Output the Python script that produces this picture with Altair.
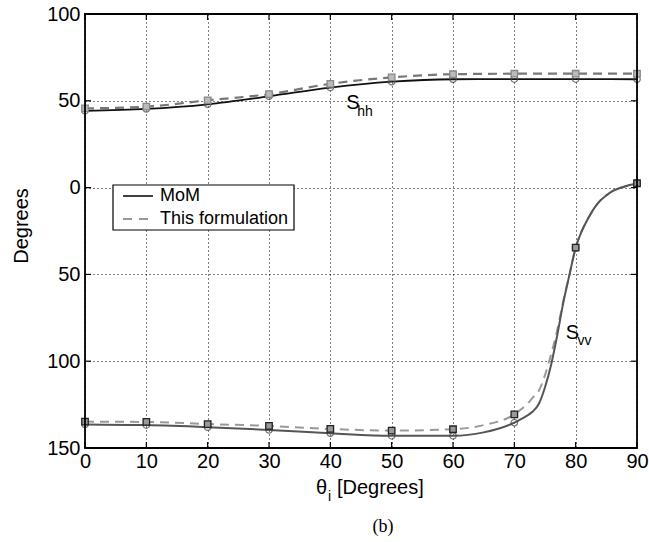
import altair as alt
import pandas as pd

# Incidence angles sampled every 10 degrees (markers) and the S_hh phases
theta_coarse = [0, 10, 20, 30, 40, 50, 60, 70, 80, 90]
shh_mom = [44.2, 45.3, 48.0, 52.6, 57.6, 61.0, 62.4, 62.5, 62.5, 62.4]
shh_form = [45.6, 46.6, 50.3, 53.8, 59.8, 63.5, 65.3, 65.6, 65.6, 65.6]

# S_vv phases, sampled more densely through the steep rise near grazing
theta_fine = [0, 10, 20, 30, 40, 50, 60, 65, 70, 71, 72, 73, 74, 75, 76, 77,
              78, 79, 80, 81, 82, 83, 84, 85, 86, 87, 88, 89, 90]
svv_mom = [-136.4, -136.8, -138.0, -139.6, -141.5, -143.0, -143.0, -141.0,
           -135.4, -133.5, -131.5, -129.0, -124.5, -115.0, -102.0, -85.0,
           -66.0, -50.0, -34.6, -25.0, -18.0, -12.0, -7.5, -4.5, -2.0, -0.5,
           0.6, 1.6, 2.5]
svv_form = [-134.8, -135.0, -136.2, -137.3, -139.0, -140.0, -139.2, -136.8,
            -130.6, -128.0, -125.0, -121.0, -117.0, -108.0, -96.0, -82.0,
            -65.0, -50.0, -34.6, -25.0, -18.0, -12.0, -7.5, -4.5, -2.0, -0.5,
            0.6, 1.6, 2.5]

x_ticks = [0, 10, 20, 30, 40, 50, 60, 70, 80, 90]
y_ticks = [100, 50, 0, -50, -100, -150]
legend_labels = ["MoM", "This formulation"]

W, H = 552, 434
FONT = "Liberation Sans"


def series(theta, vals, key):
    return pd.DataFrame({"theta": theta, "value": vals, "key": key})


df = pd.concat([
    series(theta_coarse, shh_mom, "shh_mom"),
    series(theta_coarse, shh_form, "shh_form"),
    series(theta_fine, svv_mom, "svv_mom"),
    series(theta_fine, svv_form, "svv_form"),
], ignore_index=True)
df["marker"] = df["theta"] % 10 == 0

x_enc = alt.X("theta:Q",
              scale=alt.Scale(domain=[0, 90], nice=False, zero=False),
              axis=alt.Axis(values=x_ticks, title=None, grid=True,
                            gridDash=[1, 3], gridColor="#000", gridWidth=1,
                            ticks=False, domain=False, labelFont=FONT,
                            labelFontSize=20, labelColor="#000",
                            labelPadding=3, labelFlush=False))
y_enc = alt.Y("value:Q",
              scale=alt.Scale(domain=[-150, 100], nice=False, zero=False),
              axis=alt.Axis(values=y_ticks, title=None, grid=True,
                            gridDash=[1, 3], gridColor="#000", gridWidth=1,
                            ticks=False, domain=False, labelFont=FONT,
                            labelFontSize=20, labelColor="#000",
                            labelPadding=5,
                            labelExpr="format(abs(datum.value), 'd')"))

base = alt.Chart(df).encode(x=x_enc, y=y_enc)


def curve(key, color, width, dash=None):
    kw = dict(color=color, strokeWidth=width, interpolate="monotone")
    if dash:
        kw["strokeDash"] = dash
    return base.transform_filter(alt.datum.key == key).mark_line(**kw)


def markers(key, shape, stroke, fill=None):
    kw = dict(shape=shape, size=42, stroke=stroke, strokeWidth=1.3)
    if fill:
        kw.update(filled=True, fill=fill, opacity=1)
    else:
        kw.update(filled=False)
    return (base.transform_filter(alt.datum.key == key)
            .transform_filter(alt.datum.marker)
            .mark_point(**kw))


lines = [
    curve("shh_form", "#777777", 2.2, [9, 6]),
    curve("shh_mom", "#111111", 1.8),
    curve("svv_form", "#999999", 2.0, [9, 6]),
    curve("svv_mom", "#555555", 2.0),
]
points = [
    markers("shh_mom", "circle", "#444444"),
    markers("shh_form", "square", "#888888", "#bbbbbb"),
    markers("svv_mom", "circle", "#444444"),
    markers("svv_form", "square", "#222222", "#999999"),
]

# Inward tick marks on all four sides of the frame
xt = pd.DataFrame({"theta": x_ticks})
yt = pd.DataFrame({"value": y_ticks})
ticks = [
    alt.Chart(xt).mark_rule(color="#000", strokeWidth=1.2).encode(
        x=x_enc, y=alt.value(H), y2=alt.value(H - 6)),
    alt.Chart(xt).mark_rule(color="#000", strokeWidth=1.2).encode(
        x=x_enc, y=alt.value(0), y2=alt.value(6)),
    alt.Chart(yt).mark_rule(color="#000", strokeWidth=1.2).encode(
        y=y_enc, x=alt.value(0), x2=alt.value(6)),
    alt.Chart(yt).mark_rule(color="#000", strokeWidth=1.2).encode(
        y=y_enc, x=alt.value(W), x2=alt.value(W - 6)),
]


def one(text):
    return alt.Chart(pd.DataFrame({"t": [text]}))


# Solid frame drawn over the edge gridlines
frame = one("frame").mark_rect(fillOpacity=0, stroke="#000",
                               strokeWidth=1.8).encode(
    x=alt.value(0), x2=alt.value(W), y=alt.value(0), y2=alt.value(H))

# Curve annotations S_hh and S_vv, placed in data coordinates
ann = pd.DataFrame({
    "theta": [42.6, 44.4, 78.4, 80.3],
    "value": [48.7, 43.7, -84.0, -88.4],
    "txt": ["S", "hh", "S", "vv"],
    "fs": [20, 14, 20, 14],
})
annot = alt.Chart(ann).mark_text(align="left", baseline="middle", font=FONT,
                                 color="#000").encode(
    x=x_enc, y=y_enc, text="txt:N",
    size=alt.Size("fs:Q", scale=None, legend=None))

# Legend box
leg_x0, leg_x1, leg_y0, leg_y1 = 28, 209, 171, 216
legend = [
    one("box").mark_rect(fill="white", stroke="#000", strokeWidth=1.2).encode(
        x=alt.value(leg_x0), x2=alt.value(leg_x1),
        y=alt.value(leg_y0), y2=alt.value(leg_y1)),
    one("l1").mark_rule(color="#111", strokeWidth=1.6).encode(
        x=alt.value(38), x2=alt.value(68), y=alt.value(182)),
    one("l2").mark_rule(color="#777", strokeWidth=1.6, strokeDash=[9, 7]).encode(
        x=alt.value(38), x2=alt.value(68), y=alt.value(205)),
]
for i, lab in enumerate(legend_labels):
    legend.append(one(lab).mark_text(text=lab, align="left", baseline="middle",
                                     font=FONT, fontSize=18, color="#000").encode(
        x=alt.value(75), y=alt.value(182 + 23 * i)))

# Axis titles and panel caption
titles = [
    one("Degrees").mark_text(text="Degrees", angle=270, align="center",
                             baseline="middle", font=FONT, fontSize=20,
                             color="#000").encode(
        x=alt.value(-63), y=alt.value(212)),
    one("theta").mark_text(text="θ", align="left", baseline="middle",
                           font=FONT, fontSize=20, color="#000").encode(
        x=alt.value(231), y=alt.value(474)),
    one("i").mark_text(text="i", align="left", baseline="middle",
                       font=FONT, fontSize=14, color="#000").encode(
        x=alt.value(243), y=alt.value(483)),
    one("deg").mark_text(text="[Degrees]", align="left", baseline="middle",
                         font=FONT, fontSize=20, color="#000").encode(
        x=alt.value(252), y=alt.value(474)),
    one("b").mark_text(text="(b)", align="center", baseline="middle",
                       font="Liberation Serif", fontSize=18,
                       color="#000").encode(
        x=alt.value(298), y=alt.value(513)),
]

chart = alt.layer(*lines, *points, *ticks, frame, annot, *legend,
                  *titles).properties(
    width=W, height=H,
    autosize=alt.AutoSizeParams(type="none"),
    padding={"left": 85, "top": 14, "right": 12, "bottom": 94},
).configure_view(stroke=None).configure(background="white")

chart.save("out.html", embed_options={"renderer": "svg", "actions": False})
